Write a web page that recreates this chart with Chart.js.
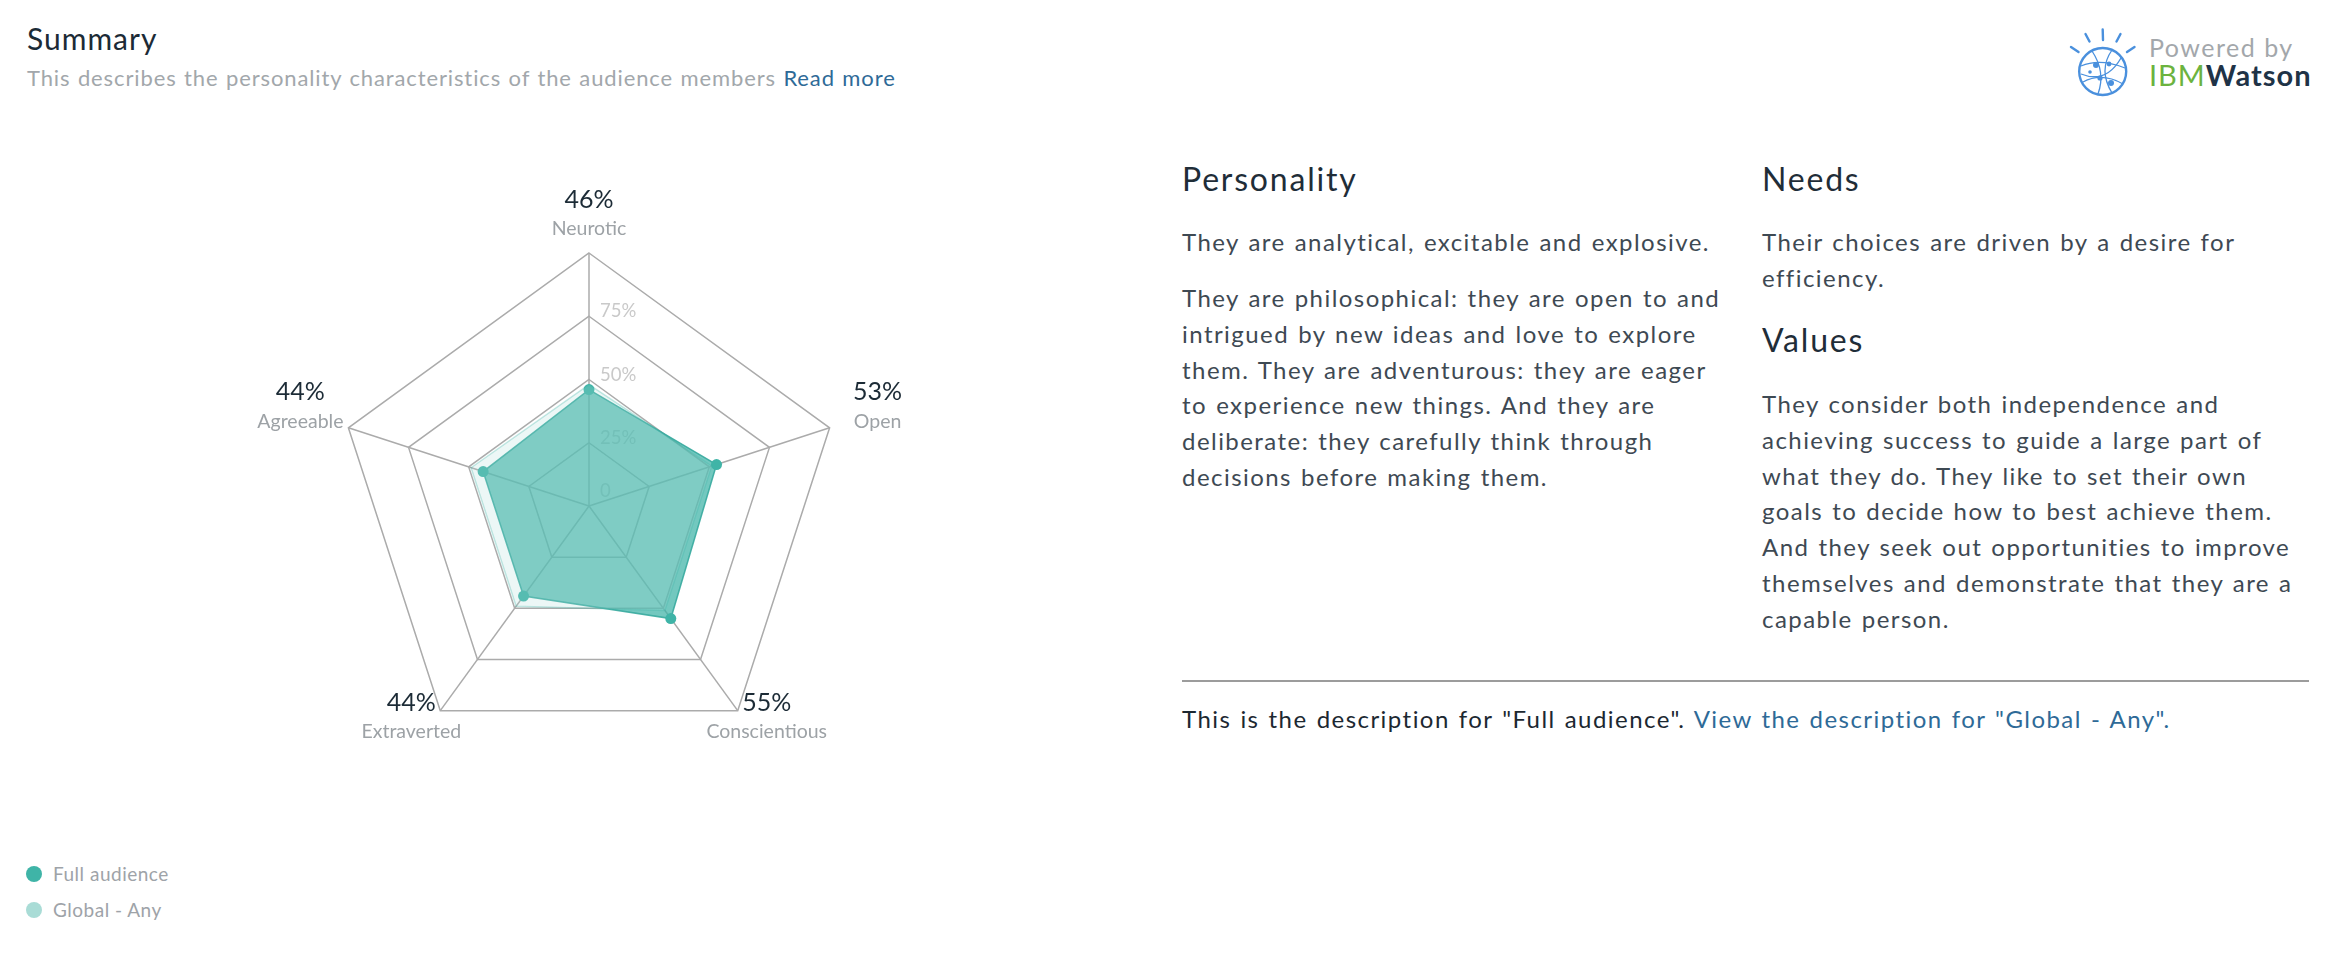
<!DOCTYPE html>
<html lang="en">
<head>
<meta charset="utf-8">
<title>Summary</title>
<script src="https://cdn.jsdelivr.net/npm/chart.js@4.4.1/dist/chart.umd.min.js"></script>
<style>
    html, body { margin: 0; padding: 0; background: #fff; }
    body {
        width: 2338px; height: 960px; position: relative; overflow: hidden;
        font-family: Lato, "Open Sans", sans-serif; color: #3b4650;
    }
    .abs { position: absolute; white-space: nowrap; }
    .title { left: 27px; top: 20px; font-size: 30px; letter-spacing: 1px; line-height: 1.2; color: #1c2b36; }
    .subtitle { left: 27px; top: 65px; font-size: 22px; letter-spacing: 0.88px; word-spacing: 1px; line-height: 1.2; color: #a2a7ab; }
    .link { color: #2e6a97; }
    .head { font-size: 32px; letter-spacing: 1.8px; line-height: 1.2; color: #1f2d38; }
    .para { font-size: 24px; letter-spacing: 1.45px; word-spacing: 1.5px; line-height: 35.8px; color: #3e4953; }
    .rule { left: 1182px; top: 680px; width: 1127px; height: 2px; background: #9c9c9c; }
    .bottom { left: 1182px; top: 705px; font-size: 24px; letter-spacing: 1.45px; word-spacing: 1.5px; line-height: 1.2; color: #1c2831; }
    #radar { position: absolute; left: 216px; top: 133px; width: 746px; height: 746px; }
    #legend { position: absolute; left: 26px; top: 862px; font-size: 19px; letter-spacing: 0.5px; color: #9ea3a8; }
    #legend .item { height: 35.5px; display: flex; align-items: flex-start; }
    #legend .dot { width: 16px; height: 16px; border-radius: 50%; margin: 4px 11px 0 0; }
    .powered { left: 2149px; top: 32px; font-size: 25px; letter-spacing: 1.5px; line-height: 1.2; color: #a3a7ab; }
    .ibm { left: 2149px; top: 58px; font-size: 29px; letter-spacing: 1px; line-height: 1.2; }
    .ibm .g { color: #6cb33f; }
    .ibm .w { color: #1f3347; font-weight: 700; }
</style>
</head>
<body>

<div class="abs title">Summary</div>
<div class="abs subtitle">This describes the personality characteristics of the audience members <span class="link">Read more</span></div>

<svg class="abs" style="left:2062px;top:21px" width="80" height="82" viewBox="0 0 80 82">
    <g stroke="#4a90dd" stroke-width="2.4" fill="none" stroke-linecap="round">
        <circle cx="40.7" cy="50.5" r="23.5"/>
        <line x1="9" y1="26" x2="16.5" y2="31"/>
        <line x1="23.5" y1="13" x2="27.5" y2="20.5"/>
        <line x1="40.7" y1="8.5" x2="41" y2="19"/>
        <line x1="58.5" y1="13" x2="54.5" y2="20.5"/>
        <line x1="72.5" y1="26" x2="65" y2="31"/>
    </g>
    <g stroke="#4a90dd" stroke-width="1.3" fill="none">
        <path d="M19 45 Q38 37 63 47"/>
        <path d="M21 61 Q40 51 61 63"/>
        <path d="M30 30 Q44 51 36 73"/>
        <path d="M50 29 Q36 49 50 72"/>
        <path d="M19 53 Q44 63 59 37"/>
    </g>
    <g fill="#4a90dd">
        <circle cx="34" cy="44" r="3"/>
        <circle cx="47" cy="43" r="2.4"/>
        <circle cx="38" cy="57" r="2.6"/>
        <circle cx="49" cy="62" r="3"/>
        <circle cx="28" cy="51" r="1.8"/>
    </g>
</svg>
<div class="abs powered">Powered by</div>
<div class="abs ibm"><span class="g">IBM</span><span class="w">Watson</span></div>

<div class="abs head" style="left:1182px;top:160px">Personality</div>
<div class="abs para" style="left:1182px;top:224px">They are analytical, excitable and explosive.</div>
<div class="abs para" style="left:1182px;top:280px">They are philosophical: they are open to and<br>intrigued by new ideas and love to explore<br>them. They are adventurous: they are eager<br>to experience new things. And they are<br>deliberate: they carefully think through<br>decisions before making them.</div>

<div class="abs head" style="left:1762px;top:160px">Needs</div>
<div class="abs para" style="left:1762px;top:224px">Their choices are driven by a desire for<br>efficiency.</div>
<div class="abs head" style="left:1762px;top:321px">Values</div>
<div class="abs para" style="left:1762px;top:386px">They consider both independence and<br>achieving success to guide a large part of<br>what they do. They like to set their own<br>goals to decide how to best achieve them.<br>And they seek out opportunities to improve<br>themselves and demonstrate that they are a<br>capable person.</div>

<div class="abs rule"></div>
<div class="abs bottom">This is the description for "Full audience". <span class="link">View the description for "Global - Any".</span></div>

<div id="radar"><canvas id="chart"></canvas></div>
<div id="legend"></div>

<script>
    // --- Données ---
    const axisLabels = ['Neurotic', 'Open', 'Conscientious', 'Extraverted', 'Agreeable'];
    const fullAudience = [46, 53, 55, 44, 44];
    const globalAny = [48, 51, 51, 49, 49];
    const seriesNames = ['Full audience', 'Global - Any'];
    const tickValues = [0, 25, 50, 75];
    const tickLabels = ['0', '25%', '50%', '75%'];

    const seriesColors = ['#3fb4a7', '#a9dcd6'];

    // Graduations : texte calé à droite de l'axe vertical, posé sur chaque anneau
    const tickLabelPlugin = {
        id: 'tickLabels',
        beforeDatasetsDraw(chart) {
            const s = chart.scales.r;
            const ctx = chart.ctx;
            ctx.save();
            ctx.font = '18.5px Lato';
            ctx.fillStyle = '#c9c9c9';
            ctx.textAlign = 'left';
            ctx.textBaseline = 'alphabetic';
            tickValues.forEach((v, i) => {
                const d = Math.max(s.getDistanceFromCenterForValue(v), 10);
                ctx.fillText(tickLabels[i], s.xCenter + 11, s.yCenter - d + 1);
            });
            ctx.restore();
        }
    };

    // Libellés des axes : pourcentage (foncé) + nom (gris)
    const pointLabelPlugin = {
        id: 'pointLabels2',
        afterDatasetsDraw(chart) {
            const s = chart.scales.r;
            const ctx = chart.ctx;
            ctx.save();
            ctx.textBaseline = 'alphabetic';
            axisLabels.forEach((name, i) => {
                const v = s.getPointPosition(i, s.drawingArea);
                const a = s.getIndexAngle(i);
                const dir = Math.sign(Math.sin(a));
                const cos = Math.cos(a);
                let px, py, pAlign, nx, ny;
                if (cos > 0.9) {
                    px = nx = v.x; pAlign = 'center'; py = v.y - 45; ny = v.y - 18;
                } else if (cos > 0) {
                    px = nx = v.x + 48 * dir; pAlign = 'center'; py = v.y - 28; ny = v.y;
                } else {
                    px = v.x + 4.5 * dir; pAlign = dir > 0 ? 'left' : 'right'; py = v.y;
                    nx = v.x + 29 * dir; ny = v.y + 27.5;
                }
                ctx.font = '25px Lato';
                ctx.fillStyle = '#1c2b36';
                ctx.textAlign = pAlign;
                ctx.fillText(fullAudience[i] + '%', px, py);
                ctx.font = '19.5px Lato';
                ctx.fillStyle = '#9da2a6';
                ctx.textAlign = 'center';
                ctx.fillText(name, nx, ny);
            });
            ctx.restore();
        }
    };

    new Chart(document.getElementById('chart'), {
        type: 'radar',
        data: {
            labels: axisLabels,
            datasets: [{
                label: seriesNames[0],
                data: fullAudience,
                order: 1,
                fill: true,
                backgroundColor: 'rgba(61, 179, 166, 0.72)',
                borderColor: 'rgba(55, 170, 158, 0.9)',
                borderWidth: 1.5,
                pointRadius: 5.5,
                pointHoverRadius: 5.5,
                pointBorderWidth: 0,
                pointBackgroundColor: seriesColors[0]
            }, {
                label: seriesNames[1],
                data: globalAny,
                order: 0,
                fill: true,
                backgroundColor: 'rgba(169, 220, 214, 0.22)',
                borderColor: 'rgba(61, 179, 166, 0.3)',
                borderWidth: 1.5,
                pointRadius: 0,
                pointHoverRadius: 0
            }]
        },
        options: {
            responsive: true,
            maintainAspectRatio: false,
            animation: false,
            layout: { padding: 120 },
            plugins: {
                legend: { display: false },
                tooltip: { enabled: false }
            },
            scales: {
                r: {
                    min: 0,
                    max: 100,
                    ticks: { stepSize: 25, display: false },
                    pointLabels: { display: false },
                    grid: { color: '#ababab', lineWidth: 1.5 },
                    angleLines: { color: '#ababab', lineWidth: 1.5 }
                }
            }
        },
        plugins: [tickLabelPlugin, pointLabelPlugin]
    });

    // Légende HTML, en bas à gauche
    const legend = document.getElementById('legend');
    seriesNames.forEach((name, i) => {
        const item = document.createElement('div');
        item.className = 'item';
        item.innerHTML = '<span class="dot" style="background:' + seriesColors[i] + '"></span><span>' + name + '</span>';
        legend.appendChild(item);
    });
</script>
</body>
</html>
